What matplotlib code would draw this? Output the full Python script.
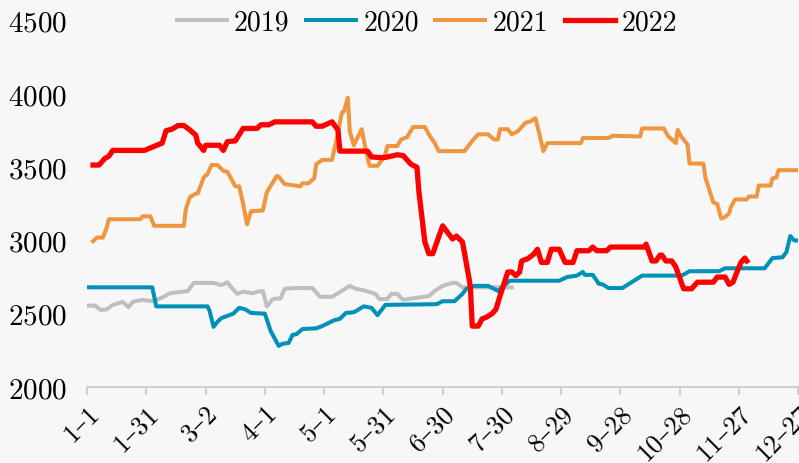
import numpy as np
import matplotlib.pyplot as plt

plt.rcParams['font.family'] = ['cmr10', 'DejaVu Serif']
plt.rcParams['axes.formatter.use_mathtext'] = True

# day of year (0 = 1-1) and price for each year
d2019 = [0, 4, 7, 10, 13, 18, 21, 23, 28, 33, 38, 42, 51, 54, 64, 68, 71, 73, 76, 79,
         84, 86, 89, 91, 94, 98, 100, 105, 114, 118, 124, 133, 136, 140, 146, 148, 152, 154, 157, 160,
         165, 173, 176, 180, 185, 187, 190, 215]
v2019 = [2555, 2555, 2525, 2530, 2560, 2580, 2545, 2580, 2595, 2585, 2610, 2640, 2655, 2710, 2710, 2695, 2715, 2680, 2635, 2650,
         2640, 2650, 2655, 2550, 2600, 2605, 2670, 2675, 2675, 2615, 2615, 2690, 2670, 2660, 2635, 2600, 2600, 2635, 2635, 2595,
         2605, 2620, 2655, 2690, 2710, 2710, 2680, 2680]

d2020 = [0, 33, 35, 61, 62, 64, 66, 68, 71, 74, 77, 80, 83, 90, 93, 97, 99, 102, 104, 106,
         109, 116, 119, 125, 128, 131, 135, 137, 140, 144, 147, 151, 177, 180, 186, 190, 192, 196, 203, 208,
         210, 214, 239, 243, 248, 251, 252, 256, 259, 261, 264, 271, 281, 301, 305, 320, 323, 343, 347, 352,
         354, 356, 358, 360]
v2020 = [2680, 2680, 2550, 2550, 2520, 2410, 2445, 2470, 2485, 2500, 2540, 2530, 2505, 2500, 2380, 2280, 2295, 2300, 2355, 2360,
         2395, 2400, 2415, 2455, 2465, 2505, 2510, 2525, 2550, 2540, 2490, 2560, 2565, 2585, 2585, 2635, 2670, 2690, 2690, 2655,
         2680, 2725, 2725, 2750, 2760, 2785, 2765, 2765, 2705, 2700, 2675, 2675, 2760, 2760, 2790, 2790, 2810, 2810, 2880, 2885,
         2920, 3030, 3000, 3000]

d2021 = [3, 5, 8, 10, 11, 27, 28, 32, 34, 49, 50, 52, 55, 56, 59, 61, 63, 66, 69, 71,
         73, 75, 77, 79, 81, 83, 89, 91, 96, 97, 100, 108, 109, 112, 115, 116, 119, 124, 126, 129,
         130, 132, 133, 135, 139, 141, 143, 147, 149, 151, 152, 157, 159, 162, 165, 171, 173, 176, 178, 191,
         195, 198, 203, 206, 208, 209, 213, 215, 218, 222, 224, 227, 229, 231, 233, 250, 251, 264, 266, 280,
         281, 292, 294, 298, 299, 301, 304, 305, 312, 313, 317, 319, 321, 323, 325, 326, 328, 334, 335, 339,
         340, 346, 347, 349, 350, 360]
v2021 = [2995, 3020, 3020, 3090, 3145, 3145, 3165, 3165, 3100, 3100, 3215, 3295, 3320, 3320, 3430, 3455, 3515, 3515, 3475, 3470,
         3420, 3370, 3370, 3250, 3110, 3200, 3205, 3330, 3440, 3435, 3385, 3370, 3390, 3390, 3425, 3520, 3550, 3550, 3670, 3875,
         3880, 3975, 3745, 3650, 3760, 3625, 3510, 3510, 3545, 3590, 3645, 3645, 3690, 3705, 3775, 3775, 3725, 3665, 3610, 3610,
         3680, 3725, 3725, 3690, 3690, 3760, 3760, 3725, 3745, 3805, 3810, 3835, 3725, 3610, 3665, 3665, 3700, 3700, 3715, 3710,
         3765, 3765, 3715, 3665, 3755, 3705, 3655, 3525, 3525, 3430, 3260, 3250, 3150, 3160, 3185, 3230, 3280, 3280, 3300, 3300,
         3375, 3375, 3425, 3430, 3480, 3480]

d2022 = [3, 6, 9, 11, 13, 29, 38, 40, 43, 46, 49, 52, 55, 56, 59, 60, 67, 69, 71, 75,
         79, 86, 88, 92, 95, 114, 116, 119, 124, 127, 128, 142, 144, 150, 152, 157, 160, 164, 167, 168,
         171, 173, 175, 180, 185, 187, 190, 191, 194, 195, 198, 200, 202, 205, 207, 209, 213, 215, 217, 219,
         220, 223, 226, 228, 230, 233, 235, 239, 242, 246, 248, 254, 256, 258, 263, 265, 282, 283, 286, 288,
         290, 291, 293, 296, 298, 302, 306, 309, 317, 319, 323, 325, 327, 329, 331, 333, 334]
v2022 = [3515, 3515, 3560, 3575, 3615, 3615, 3665, 3750, 3760, 3785, 3785, 3755, 3720, 3665, 3615, 3650, 3650, 3615, 3675, 3680,
         3765, 3765, 3790, 3790, 3810, 3810, 3780, 3780, 3810, 3755, 3610, 3610, 3570, 3565, 3570, 3585, 3580, 3520, 3500, 3330,
         2990, 2910, 2910, 3100, 3010, 3030, 2990, 2920, 2690, 2415, 2415, 2465, 2475, 2500, 2530, 2620, 2785, 2785, 2760, 2785,
         2860, 2875, 2905, 2940, 2850, 2850, 2940, 2940, 2850, 2850, 2930, 2930, 2955, 2930, 2930, 2955, 2955, 2975, 2860, 2860,
         2900, 2900, 2860, 2860, 2820, 2670, 2670, 2715, 2715, 2750, 2750, 2700, 2715, 2785, 2850, 2880, 2860]

tick_days = list(range(0, 361, 30))
tick_labels = ['1–1', '1–31', '3–2', '4–1', '5–1', '5–31', '6–30',
               '7–30', '8–29', '9–28', '10–28', '11–27', '12–27']

bg = '#f7f7f7'
fig = plt.figure(figsize=(7.99, 4.64), dpi=100, facecolor=bg)
ax = fig.add_axes([0.109, 0.164, 0.89, 0.789], facecolor=bg)

ax.plot(d2019, v2019, color='#bfbfbf', lw=2.9, label='2019', solid_joinstyle='round')
ax.plot(d2020, v2020, color='#0091b9', lw=2.9, label='2020', solid_joinstyle='round')
ax.plot(d2021, v2021, color='#ef9641', lw=2.9, label='2021', solid_joinstyle='round')
ax.plot(d2022, v2022, color='#ff0000', lw=3.8, label='2022', solid_joinstyle='round')

ax.set_xlim(0, 360)
ax.set_ylim(2000, 4500)
ax.set_yticks([2000, 2500, 3000, 3500, 4000, 4500])
ax.set_xticks(tick_days)
ax.set_xticklabels(tick_labels, rotation=45, ha='right', rotation_mode='anchor')

for s in ['left', 'top', 'right']:
    ax.spines[s].set_visible(False)
ax.spines['bottom'].set_color('#d0d0d0')
ax.spines['bottom'].set_linewidth(1.5)
ax.tick_params(axis='y', length=0, labelsize=21, pad=14)
ax.tick_params(axis='x', length=6, width=1.5, color='#d0d0d0', labelsize=19, pad=4)

ax.legend(loc='upper center', bbox_to_anchor=(0.478, 1.1), ncol=4, frameon=False,
          fontsize=20, handlelength=1.8, handletextpad=0.25, columnspacing=0.6)

fig.savefig('out.png', dpi=100, facecolor=bg)
